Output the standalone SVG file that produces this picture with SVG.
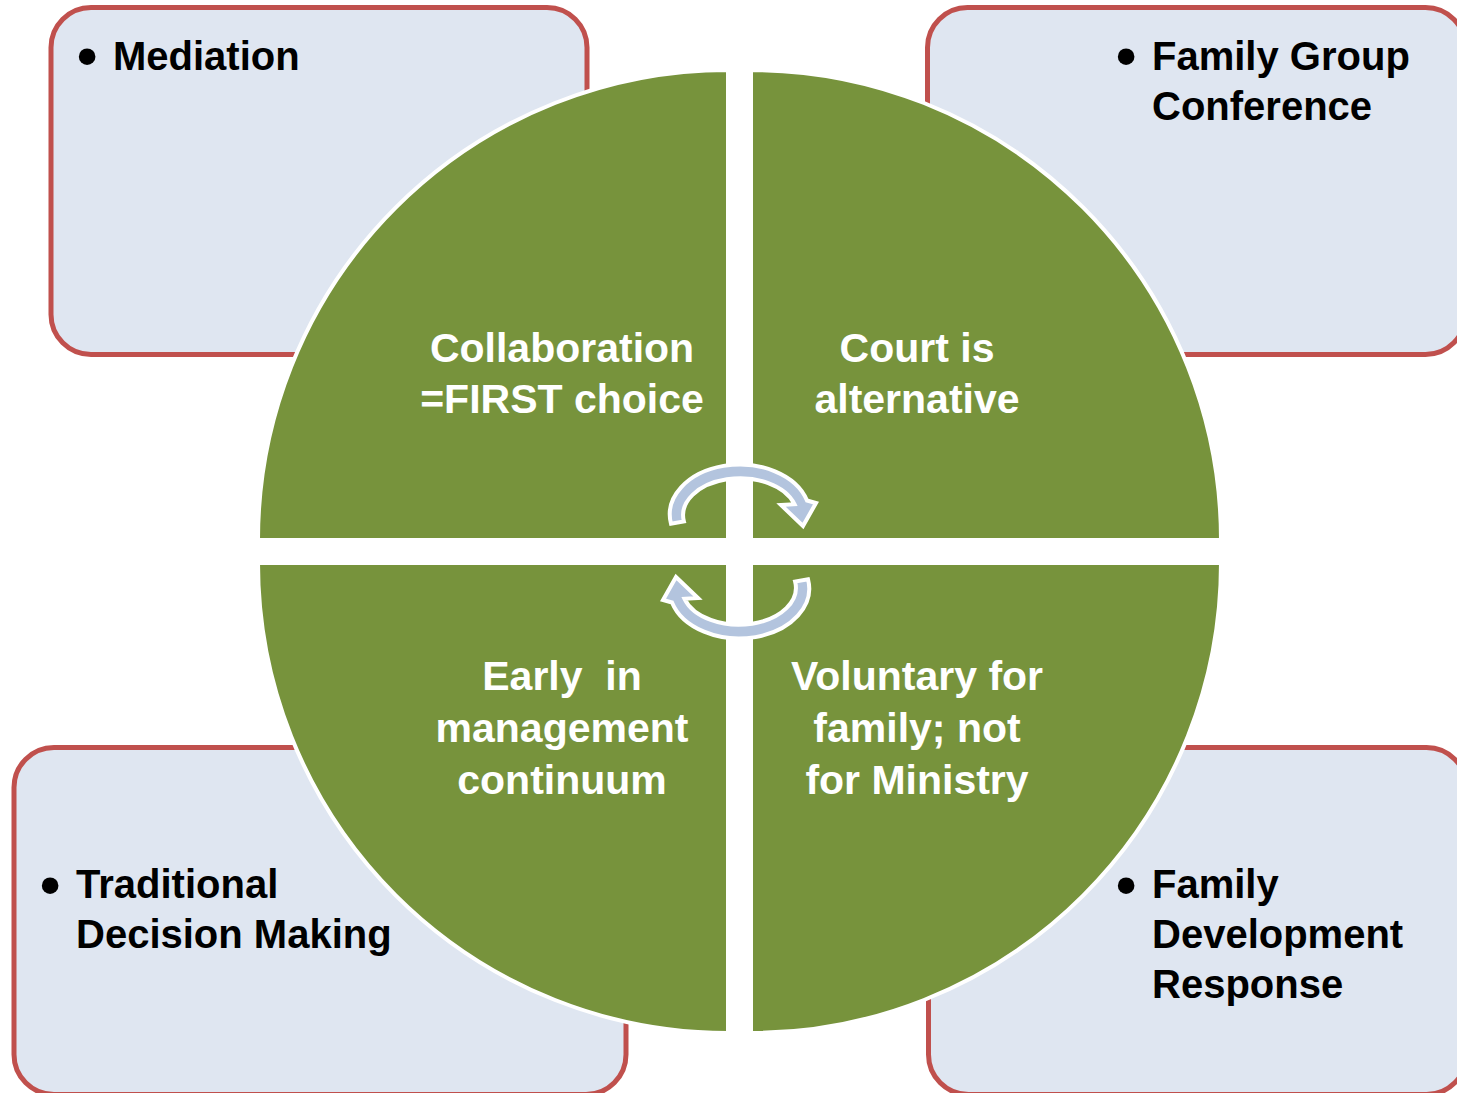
<svg xmlns="http://www.w3.org/2000/svg" width="1457" height="1093" viewBox="0 0 1457 1093">
  <style>
    .box { fill: #dfe6f1; stroke: #c0504d; stroke-width: 5; }
    .quad { fill: #77933c; stroke: #ffffff; stroke-width: 4; }
    .cycle { fill: #b3c4de; stroke: #ffffff; stroke-width: 4; stroke-linejoin: miter; }
    .label { font-family: "Liberation Sans", Arial, sans-serif; font-weight: bold; font-size: 40px; fill: #000000; }
    .bullet { font-family: "Liberation Sans", Arial, sans-serif; font-weight: bold; font-size: 58px; fill: #000000; }
    .center { font-family: "Liberation Sans", Arial, sans-serif; font-weight: bold; font-size: 41px; fill: #ffffff; text-anchor: middle; }
  </style>
  <defs>
    <!-- curved arrow running clockwise over the top -->
    <path id="cycle-arrow" d="M 671 523.7 A 70 50 0 0 1 807 500.5 L 816 503 L 803 526 L 781 505 L 794.5 504.2 A 57 37 0 0 0 683.9 521.4 Z"/>
  </defs>
  <rect width="1457" height="1093" fill="#ffffff"/>

  <!-- corner boxes -->
  <g id="box-mediation">
    <rect class="box" x="51" y="7.5" width="536" height="347" rx="40"/>
    <text class="bullet" x="77" y="76">•</text>
    <text class="label" x="113" y="70">Mediation</text>
  </g>
  <g id="box-fgc">
    <rect class="box" x="927.5" y="7.5" width="538" height="347" rx="40"/>
    <text class="bullet" x="1116" y="76">•</text>
    <text class="label" x="1152" y="70">Family Group</text>
    <text class="label" x="1152" y="120">Conference</text>
  </g>
  <g id="box-tdm">
    <rect class="box" x="14" y="747.5" width="612" height="347" rx="40"/>
    <text class="bullet" x="40" y="905">•</text>
    <text class="label" x="76" y="898">Traditional</text>
    <text class="label" x="76" y="948">Decision Making</text>
  </g>
  <g id="box-fdr">
    <rect class="box" x="928.5" y="747.5" width="538" height="347" rx="40"/>
    <text class="bullet" x="1116" y="905">•</text>
    <text class="label" x="1152" y="898">Family</text>
    <text class="label" x="1152" y="948">Development</text>
    <text class="label" x="1152" y="998">Response</text>
  </g>

  <!-- quarter-circle segments -->
  <g id="quad-collaboration">
    <path class="quad" d="M 728 540 L 258 540 A 470 470 0 0 1 728 70 Z"/>
    <text class="center" x="562" y="362">Collaboration</text>
    <text class="center" x="562" y="413">=FIRST choice</text>
  </g>
  <g id="quad-court">
    <path class="quad" d="M 751 540 L 751 70 A 470 470 0 0 1 1221 540 Z"/>
    <text class="center" x="917" y="362">Court is</text>
    <text class="center" x="917" y="413">alternative</text>
  </g>
  <g id="quad-early">
    <path class="quad" d="M 728 563 L 728 1033 A 470 470 0 0 1 258 563 Z"/>
    <text class="center" x="562" y="690" style="white-space:pre">Early  in</text>
    <text class="center" x="562" y="742">management</text>
    <text class="center" x="562" y="794">continuum</text>
  </g>
  <g id="quad-voluntary">
    <path class="quad" d="M 751 563 L 1221 563 A 470 470 0 0 1 751 1033 Z"/>
    <text class="center" x="917" y="690">Voluntary for</text>
    <text class="center" x="917" y="742">family; not</text>
    <text class="center" x="917" y="794">for Ministry</text>
  </g>

  <!-- cycle arrows in the middle -->
  <g id="connectors">
    <use href="#cycle-arrow" class="cycle"/>
    <use href="#cycle-arrow" class="cycle" transform="rotate(180 739.5 551.5)"/>
  </g>
</svg>
